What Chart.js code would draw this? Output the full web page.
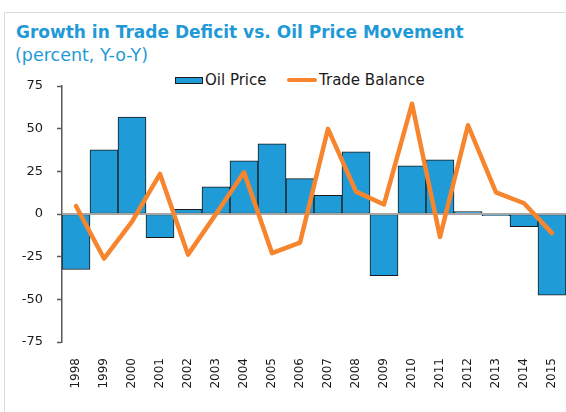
<!DOCTYPE html>
<html>
<head>
<meta charset="utf-8">
<script src="https://cdn.jsdelivr.net/npm/chart.js@4.4.1/dist/chart.umd.min.js"></script>
<style>
  body { margin: 0; background: #fff; font-family: "DejaVu Sans", sans-serif; }
  #wrap { position: relative; width: 566px; height: 412px; overflow: hidden; }
  #frame { position: absolute; left: 4px; top: 12px; right: -10px; bottom: -10px;
           border-top: 1px solid #dcdcdc; border-left: 1px solid #dcdcdc; }
  .title { position: absolute; left: 16px; top: 22px; font: bold 17px/20px "DejaVu Sans"; color: #1f9ad6; white-space: nowrap; }
  .subtitle { position: absolute; left: 15px; top: 45px; font: 17.5px/20px "DejaVu Sans"; color: #1f9ad6; white-space: nowrap; }
  .leg { position: absolute; top: 72px; font: 15px/17px "DejaVu Sans"; color: #1a1a1a; white-space: nowrap; }
  .sw { position: absolute; }
  canvas { position: absolute; left: 0; top: 0; }
</style>
</head>
<body>
<div id="wrap">
  <div id="frame"></div>
  <div class="title">Growth in Trade Deficit vs. Oil Price Movement</div>
  <div class="subtitle">(percent, Y-o-Y)</div>
  <div class="sw" style="left:175px;top:77px;width:26px;height:5px;background:#1f9bd7;border:1px solid #1a1a1a;"></div>
  <div class="leg" style="left:205px;">Oil Price</div>
  <div class="sw" style="left:287px;top:78px;width:30px;height:4px;background:#f7852d;border-radius:2px;"></div>
  <div class="leg" style="left:319px;">Trade Balance</div>
  <canvas id="chart" width="566" height="412"></canvas>
</div>
<script>
const years = ["1998", "1999", "2000", "2001", "2002", "2003", "2004", "2005", "2006",
  "2007", "2008", "2009", "2010", "2011", "2012", "2013", "2014", "2015"];
const oilPrice = [-32.5, 37.6, 56.8, -13.9, 2.8, 15.9, 31.1, 41.1, 20.7,
  11.0, 36.4, -36.2, 28.2, 31.7, 1.4, -1.0, -7.4, -47.6];
const tradeBalance = [4.7, -26.1, -4.5, 23.5, -23.8, 0, 24.4, -22.9, -16.8,
  49.9, 13.1, 5.6, 64.6, -13.5, 52.0, 12.7, 6.3, -11.2];
const yTicks = [-75, -50, -25, 0, 25, 50, 75];

// grey zero line drawn over the bars but under the orange line
const zeroLine = {
  id: "zeroLine",
  afterDatasetDraw(chart, args) {
    if (args.index !== 0) return;
    const { ctx, chartArea, scales } = chart;
    const y = scales.y.getPixelForValue(0);
    ctx.save();
    ctx.strokeStyle = "#a6a6a6";
    ctx.lineWidth = 2;
    ctx.beginPath();
    ctx.moveTo(chartArea.left, y);
    ctx.lineTo(chartArea.right, y);
    ctx.stroke();
    ctx.restore();
  }
};

new Chart(document.getElementById("chart"), {
  type: "bar",
  data: {
    labels: years,
    datasets: [
      {
        label: "Oil Price",
        data: oilPrice,
        backgroundColor: "#1f9bd7",
        borderColor: "#1a1a1a",
        borderWidth: 1,
        borderSkipped: false,
        barPercentage: 1,
        categoryPercentage: 1,
        order: 1
      },
      {
        type: "line",
        label: "Trade Balance",
        data: tradeBalance,
        borderColor: "#f7852d",
        backgroundColor: "#f7852d",
        borderWidth: 4.5,
        borderJoinStyle: "round",
        borderCapStyle: "round",
        pointRadius: 0,
        tension: 0,
        order: 0
      }
    ]
  },
  options: {
    responsive: false,
    animation: false,
    layout: { padding: { top: 86, left: 0, right: 0, bottom: 0 } },
    plugins: {
      legend: { display: false },
      tooltip: { enabled: false }
    },
    scales: {
      x: {
        afterFit: (axis) => {
          axis.height = 70;
          axis.paddingLeft = 0;
          axis.paddingRight = 0;
        },
        grid: { display: false },
        border: { display: false },
        ticks: {
          autoSkip: false,
          minRotation: 90,
          maxRotation: 90,
          padding: 8,
          color: "#1a1a1a",
          font: { family: "DejaVu Sans", size: 12 }
        }
      },
      y: {
        min: -75,
        max: 75,
        afterBuildTicks: (axis) => { axis.ticks = yTicks.map((v) => ({ value: v })); },
        afterFit: (axis) => { axis.width = 62; },
        grid: {
          drawOnChartArea: false,
          tickLength: 5,
          tickColor: "#595959",
          tickWidth: 1.5
        },
        border: { color: "#595959", width: 1.5 },
        ticks: {
          padding: 14,
          color: "#1a1a1a",
          font: { family: "DejaVu Sans", size: 13 }
        }
      }
    }
  },
  plugins: [zeroLine]
});
</script>
</body>
</html>
